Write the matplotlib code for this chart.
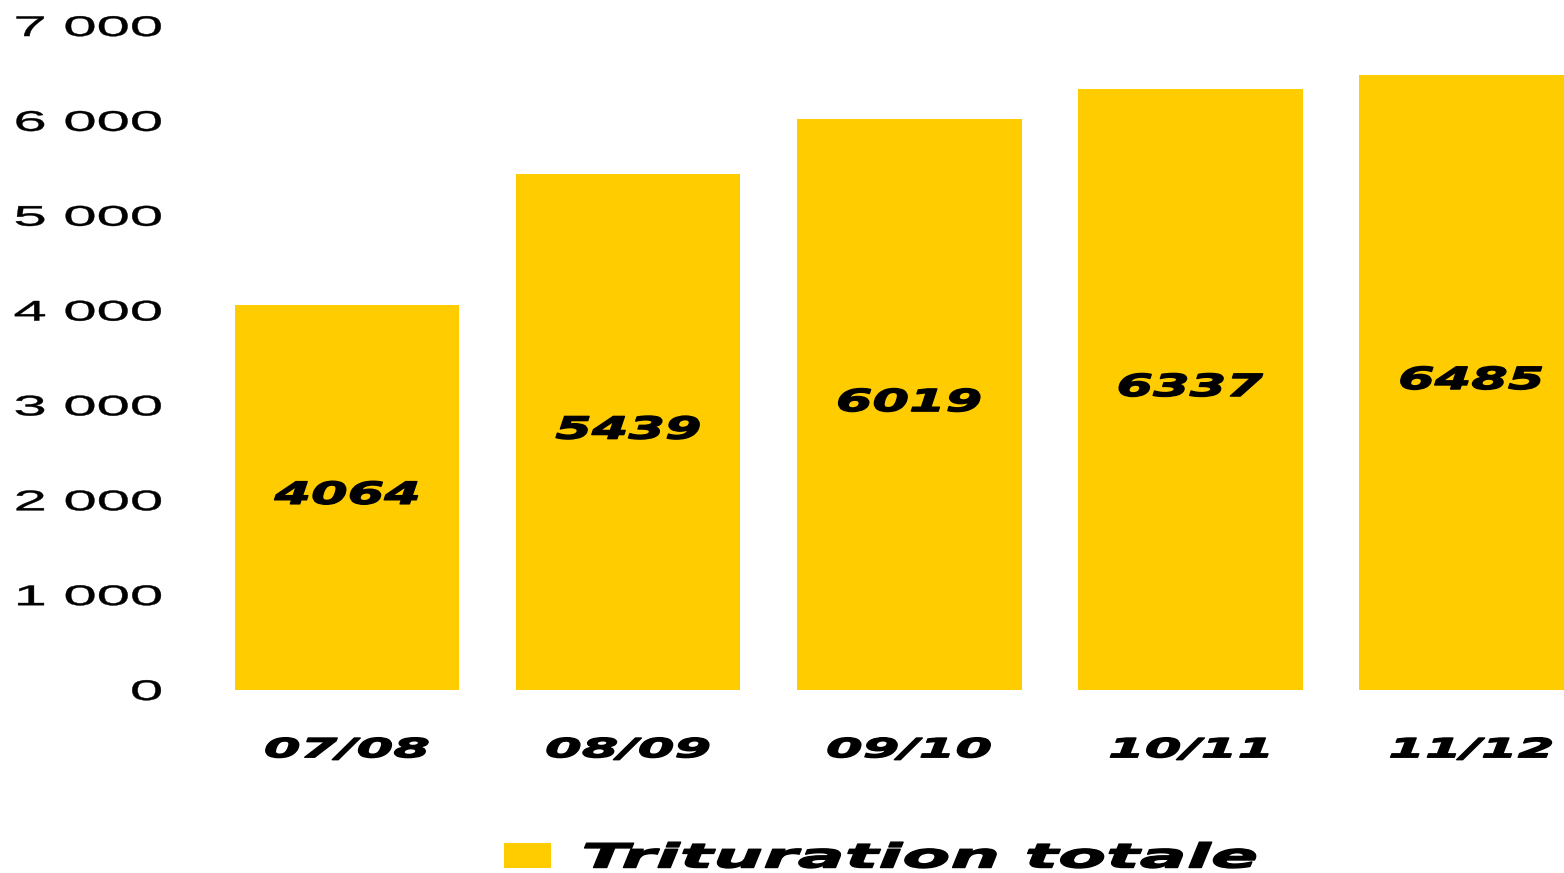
import matplotlib
matplotlib.use("Agg")
import matplotlib.pyplot as plt
from matplotlib.patheffects import AbstractPathEffect
from matplotlib.transforms import Affine2D

# data
campagnes = ["07/08", "08/09", "09/10", "10/11", "11/12"]
trituration = [4064, 5439, 6019, 6337, 6485]
yticks = [0, 1000, 2000, 3000, 4000, 5000, 6000, 7000]
ytick_labels = ["0", "1 000", "2 000", "3 000", "4 000", "5 000", "6 000", "7 000"]

JAUNE = "#FFCC00"


class Stretch(AbstractPathEffect):
    # widen text horizontally (the original uses a very wide, heavy font)
    def __init__(self, sx, anchor="center", stroke=0.0):
        super().__init__()
        self.sx = sx
        self.anchor = anchor
        self.stroke = stroke

    def draw_path(self, renderer, gc, tpath, affine, rgbFace=None):
        ext = tpath.transformed(affine).get_extents()
        if self.anchor == "right":
            x0 = ext.x1
        elif self.anchor == "left":
            x0 = ext.x0
        else:
            x0 = (ext.x0 + ext.x1) / 2
        t = affine + Affine2D().translate(-x0, 0).scale(self.sx, 1).translate(x0, 0)
        gc0 = renderer.new_gc()
        gc0.copy_properties(gc)
        gc0.set_linewidth(self.stroke)
        if rgbFace is not None:
            gc0.set_foreground(rgbFace)
        renderer.draw_path(gc0, tpath, t, rgbFace)
        gc0.restore()


fig = plt.figure(figsize=(15.64, 8.73), dpi=100)
ax = fig.add_axes([0.132, 0.2096, 0.868, 0.7606])

x = range(len(campagnes))
ax.bar(x, trituration, width=0.8, color=JAUNE, label="Trituration totale")

for i, v in enumerate(trituration):
    ax.text(i, v / 2 + 20, str(v), ha="center", va="center", fontsize=22,
            fontweight="bold", fontstyle="italic", family="DejaVu Sans",
            path_effects=[Stretch(1.72, stroke=1.0)])

ax.set_xlim(-0.5, 4.33)
ax.set_ylim(0, 7000)
ax.set_yticks(yticks, ytick_labels, fontsize=20.5, family="Liberation Sans")
ax.set_xticks(list(x), campagnes, fontsize=19, fontweight="bold",
              fontstyle="italic", family="DejaVu Sans")
ax.tick_params(axis="y", length=0, pad=32)
ax.tick_params(axis="x", length=0, pad=34)
for lab in ax.get_yticklabels():
    lab.set_path_effects([Stretch(2.1, "right", stroke=0.3)])
for lab in ax.get_xticklabels():
    lab.set_path_effects([Stretch(2.0, stroke=1.0)])

for s in ax.spines.values():
    s.set_visible(False)

leg = fig.legend(loc="center left", bbox_to_anchor=(504 / 1564, 1 - 858 / 873),
                 frameon=False, borderpad=0, borderaxespad=0,
                 handlelength=1.41, handleheight=0.78, handletextpad=0.96,
                 prop={"family": "DejaVu Sans", "weight": "bold",
                       "style": "italic", "size": 24})
for t in leg.get_texts():
    t.set_path_effects([Stretch(2.1, "left", stroke=1.0)])

fig.savefig("out.png", dpi=100)
